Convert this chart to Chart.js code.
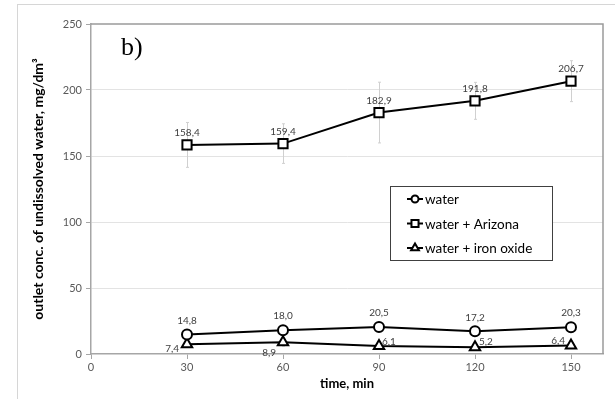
<!DOCTYPE html>
<html>
<head>
<meta charset="utf-8">
<script src="https://cdn.jsdelivr.net/npm/chart.js@4"></script>
<style>
  html, body { margin: 0; padding: 0; background: #fff; }
  #wrap { position: relative; width: 615px; height: 399px; overflow: hidden; }
  #frame { position: absolute; left: 17px; top: 4px; width: 700px; height: 500px; border: 1px solid #d6d6d6; }
  canvas { position: absolute; left: 0; top: 0; }
</style>
</head>
<body>
<div id="wrap">
  <div id="frame"></div>
  <canvas id="c" width="615" height="399"></canvas>
</div>
<script>
// Sampling times and measured outlet concentrations
const timeMin = [30, 60, 90, 120, 150];
const water = [14.8, 18.0, 20.5, 17.2, 20.3];
const waterArizona = [158.4, 159.4, 182.9, 191.8, 206.7];
const waterIronOxide = [7.4, 8.9, 6.1, 5.2, 6.4];

// Standard deviations shown as error bars
const waterErr = [2.5, 2.5, 2.5, 2.5, 2.5];
const waterArizonaErr = [17, 15, 23, 14, 15.5];
const waterIronOxideErr = [2, 3, 2, 2, 2];

const seriesLabels = ['water', 'water + Arizona', 'water + iron oxide'];
const xTicks = [0, 30, 60, 90, 120, 150];
const yTicks = [0, 50, 100, 150, 200, 250];

const toPoints = (vals) => vals.map((v, i) => ({ x: timeMin[i], y: v }));
const fmt = (v) => v.toFixed(1).replace('.', ',');

// Value label offsets (pixels) relative to each marker
const labelOffsets = [
  timeMin.map(() => ({ dx: 0, dy: -14, align: 'center' })),
  timeMin.map(() => ({ dx: 0, dy: -12, align: 'center' })),
  [
    { dx: -8, dy: 5, align: 'right' },
    { dx: -7, dy: 11, align: 'right' },
    { dx: 3, dy: -4, align: 'left' },
    { dx: 4, dy: -5, align: 'left' },
    { dx: -6, dy: -5, align: 'right' }
  ]
];

const FONT = 'Lato, "Open Sans", sans-serif';

const chartDecor = {
  id: 'chartDecor',
  beforeDatasetsDraw(chart) {
    const { ctx, chartArea: a, scales: { x, y } } = chart;
    // plot border
    ctx.save();
    ctx.strokeStyle = '#9a9a9a';
    ctx.lineWidth = 1.5;
    ctx.beginPath();
    ctx.moveTo(a.left, a.top);
    ctx.lineTo(a.right, a.top);
    ctx.lineTo(a.right, a.bottom);
    ctx.stroke();
    // error bars
    ctx.strokeStyle = '#d0d0d0';
    ctx.lineWidth = 1;
    chart.data.datasets.forEach((ds) => {
      ds.data.forEach((p, i) => {
        const e = ds.errors[i];
        const px = Math.round(x.getPixelForValue(p.x)) + 0.5;
        const y1 = y.getPixelForValue(p.y + e);
        const y2 = y.getPixelForValue(p.y - e);
        ctx.beginPath();
        ctx.moveTo(px, y1); ctx.lineTo(px, y2);
        ctx.moveTo(px - 1.5, y1); ctx.lineTo(px + 1.5, y1);
        ctx.moveTo(px - 1.5, y2); ctx.lineTo(px + 1.5, y2);
        ctx.stroke();
      });
    });
    ctx.restore();
  },
  afterDatasetsDraw(chart) {
    const { ctx, chartArea: a } = chart;
    ctx.save();
    // value labels
    ctx.font = '10px ' + FONT;
    ctx.fillStyle = '#404040';
    ctx.textBaseline = 'middle';
    chart.data.datasets.forEach((ds, di) => {
      const meta = chart.getDatasetMeta(di);
      meta.data.forEach((el, i) => {
        const o = labelOffsets[di][i];
        ctx.textAlign = o.align;
        ctx.fillText(fmt(ds.data[i].y), el.x + o.dx, el.y + o.dy);
      });
    });
    // panel tag
    ctx.font = '26px "Liberation Serif", "DejaVu Serif", serif';
    ctx.fillStyle = '#000';
    ctx.textAlign = 'left';
    ctx.textBaseline = 'alphabetic';
    ctx.fillText('b)', a.left + 30, a.top + 31);
    // legend
    const lx = 390, ly = 186, lw = 162, lh = 74;
    ctx.fillStyle = '#fff';
    ctx.fillRect(lx, ly, lw, lh);
    ctx.strokeStyle = '#404040';
    ctx.lineWidth = 1;
    ctx.strokeRect(lx + 0.5, ly + 0.5, lw, lh);
    ctx.font = '13.5px ' + FONT;
    ctx.textBaseline = 'middle';
    chart.data.datasets.forEach((ds, di) => {
      const cy = ly + 13 + di * 24.5;
      ctx.strokeStyle = '#000';
      ctx.lineWidth = 2;
      ctx.beginPath();
      ctx.moveTo(lx + 17, cy); ctx.lineTo(lx + 33, cy);
      ctx.stroke();
      ctx.fillStyle = '#fff';
      Chart.helpers.drawPoint(ctx, {
        pointStyle: ds.pointStyle, radius: ds.pointRadius - 1.5, borderWidth: 2
      }, lx + 25, cy);
      ctx.fillStyle = '#000';
      ctx.textAlign = 'left';
      ctx.fillText(ds.label, lx + 35, cy + 1);
    });
    ctx.restore();
  }
};

const baseSet = {
  borderColor: '#000',
  borderWidth: 2,
  pointBackgroundColor: '#fff',
  pointBorderColor: '#000',
  pointBorderWidth: 2,
  tension: 0
};

new Chart(document.getElementById('c'), {
  type: 'line',
  data: {
    datasets: [
      Object.assign({}, baseSet, { label: seriesLabels[0], data: toPoints(water), errors: waterErr, pointStyle: 'circle', pointRadius: 5 }),
      Object.assign({}, baseSet, { label: seriesLabels[1], data: toPoints(waterArizona), errors: waterArizonaErr, pointStyle: 'rect', pointRadius: 6.5 }),
      Object.assign({}, baseSet, { label: seriesLabels[2], data: toPoints(waterIronOxide), errors: waterIronOxideErr, pointStyle: 'triangle', pointRadius: 6 })
    ]
  },
  options: {
    responsive: false,
    animation: false,
    events: [],
    layout: { padding: { left: 0, top: 24, right: 12, bottom: 7 } },
    plugins: { legend: { display: false }, tooltip: { enabled: false } },
    scales: {
      x: {
        type: 'linear',
        min: 0,
        max: 160,
        afterBuildTicks: (s) => { s.ticks = xTicks.map((v) => ({ value: v })); },
        afterFit: (s) => { s.height = 38; },
        border: { color: '#a6a6a6', width: 1.5 },
        grid: { drawOnChartArea: false, drawTicks: true, tickLength: 5, tickColor: '#a6a6a6' },
        ticks: { padding: 2, color: '#595959', font: { family: FONT, size: 11 } },
        title: { display: true, text: 'time, min', color: '#000', padding: { top: 0, bottom: 0 }, font: { family: FONT, size: 13, weight: 'bold' } }
      },
      y: {
        min: 0,
        max: 250,
        afterBuildTicks: (s) => { s.ticks = yTicks.map((v) => ({ value: v })); },
        afterFit: (s) => { s.width = 91; },
        border: { color: '#a6a6a6', width: 1.5 },
        grid: {
          drawTicks: true,
          tickLength: 5,
          tickColor: '#a6a6a6',
          color: (c) => (c.tick && (c.tick.value === 0 || c.tick.value === 250)) ? 'rgba(0,0,0,0)' : '#e3e3e3',
          lineWidth: 1
        },
        ticks: { padding: 4, color: '#595959', font: { family: FONT, size: 11 } },
        title: { display: true, text: 'outlet conc. of undissolved water, mg/dm³', color: '#000', padding: { top: 30, bottom: 0 }, font: { family: FONT, size: 14, weight: 'bold' } }
      }
    }
  },
  plugins: [chartDecor]
});
</script>
</body>
</html>
